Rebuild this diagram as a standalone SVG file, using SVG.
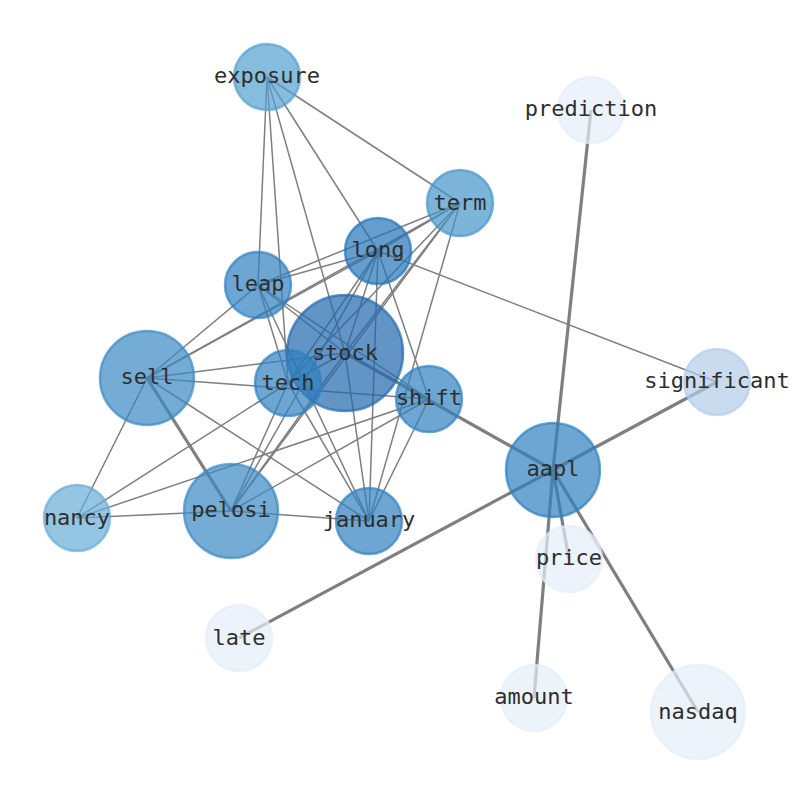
<svg xmlns="http://www.w3.org/2000/svg" width="794" height="790" viewBox="0 0 794 790">
<style>
.e{stroke:#7f7f7f;stroke-width:1.5;fill:none}
.t{stroke:#7f7f7f;stroke-width:3.2;fill:none}
circle{stroke-width:2.5;fill-opacity:0.7;stroke-opacity:0.7}
text{font-family:"DejaVu Sans Mono","Liberation Mono",monospace;font-size:22px;fill:#2e2e2e;text-anchor:middle}
.c0{fill:#1f68ad;stroke:#1f68ad}
.c1{fill:#2474b6;stroke:#2474b6}
.c2{fill:#2f80bf;stroke:#2f80bf}
.c3{fill:#3a89c3;stroke:#3a89c3}
.c4{fill:#4595c9;stroke:#4595c9}
.c4b{fill:#529fcf;stroke:#529fcf}
.c5{fill:#67acd5;stroke:#67acd5}
.c6{fill:#b2cde8;stroke:#b2cde8}
.c7{fill:#e4eef9;stroke:#e4eef9}
</style>
<rect width="794" height="790" fill="#fff"/>
<g id="edges">
<line class="e" x1="267" y1="77" x2="258" y2="285"/>
<line class="e" x1="267" y1="77" x2="288" y2="383"/>
<line class="e" x1="267" y1="77" x2="345" y2="353"/>
<line class="e" x1="267" y1="77" x2="378" y2="251"/>
<line class="e" x1="267" y1="77" x2="460" y2="203"/>
<line class="e" x1="460" y1="203" x2="258" y2="285"/>
<line class="e" x1="460" y1="203" x2="147" y2="378"/>
<line class="e" x1="460" y1="203" x2="378" y2="251"/>
<line class="e" x1="460" y1="203" x2="288" y2="383"/>
<line class="e" x1="460" y1="203" x2="345" y2="353"/>
<line class="e" x1="460" y1="203" x2="231" y2="511"/>
<line class="e" x1="460" y1="203" x2="369" y2="521"/>
<line class="e" x1="378" y1="251" x2="258" y2="285"/>
<line class="e" x1="378" y1="251" x2="147" y2="378"/>
<line class="e" x1="378" y1="251" x2="288" y2="383"/>
<line class="e" x1="378" y1="251" x2="345" y2="353"/>
<line class="e" x1="378" y1="251" x2="231" y2="511"/>
<line class="e" x1="378" y1="251" x2="369" y2="521"/>
<line class="e" x1="378" y1="251" x2="429" y2="399"/>
<line class="e" x1="378" y1="251" x2="717" y2="382"/>
<line class="e" x1="258" y1="285" x2="147" y2="378"/>
<line class="e" x1="258" y1="285" x2="288" y2="383"/>
<line class="e" x1="258" y1="285" x2="345" y2="353"/>
<line class="e" x1="258" y1="285" x2="369" y2="521"/>
<line class="e" x1="258" y1="285" x2="429" y2="399"/>
<line class="e" x1="147" y1="378" x2="345" y2="353"/>
<line class="e" x1="147" y1="378" x2="429" y2="399"/>
<line class="e" x1="147" y1="378" x2="369" y2="521"/>
<line class="e" x1="147" y1="378" x2="77" y2="518"/>
<line class="e" x1="77" y1="518" x2="288" y2="383"/>
<line class="e" x1="77" y1="518" x2="429" y2="399"/>
<line class="e" x1="77" y1="518" x2="231" y2="511"/>
<line class="e" x1="231" y1="511" x2="288" y2="383"/>
<line class="e" x1="231" y1="511" x2="345" y2="353"/>
<line class="e" x1="231" y1="511" x2="369" y2="521"/>
<line class="e" x1="231" y1="511" x2="429" y2="399"/>
<line class="e" x1="288" y1="383" x2="345" y2="353"/>
<line class="e" x1="288" y1="383" x2="369" y2="521"/>
<line class="e" x1="345" y1="353" x2="369" y2="521"/>
<line class="e" x1="429" y1="399" x2="369" y2="521"/>
<line class="e" x1="345" y1="353" x2="429" y2="399"/>
<line class="t" x1="147" y1="378" x2="231" y2="511"/>
<line class="t" x1="345" y1="353" x2="553" y2="470"/>
<line class="t" x1="553" y1="470" x2="717" y2="382"/>
<line class="t" x1="553" y1="470" x2="591" y2="110"/>
<line class="t" x1="553" y1="470" x2="569" y2="559"/>
<line class="t" x1="553" y1="470" x2="239" y2="638"/>
<line class="t" x1="553" y1="470" x2="534" y2="698"/>
<line class="t" x1="553" y1="470" x2="698" y2="712"/>
</g>
<g id="node-stock"><circle class="c0" cx="345" cy="353" r="58"/><text x="345" y="360">stock</text></g>
<g id="node-exposure"><circle class="c4b" cx="267" cy="77" r="33"/><text x="267" y="83">exposure</text></g>
<g id="node-term"><circle class="c4" cx="460" cy="203" r="33"/><text x="460" y="210">term</text></g>
<g id="node-long"><circle class="c1" cx="378" cy="251" r="33"/><text x="378" y="257">long</text></g>
<g id="node-leap"><circle class="c2" cx="258" cy="285" r="33"/><text x="258" y="291">leap</text></g>
<g id="node-sell"><circle class="c3" cx="147" cy="378" r="47"/><text x="147" y="384">sell</text></g>
<g id="node-tech"><circle class="c2" cx="288" cy="383" r="33"/><text x="288" y="390">tech</text></g>
<g id="node-shift"><circle class="c2" cx="429" cy="399" r="33"/><text x="429" y="405">shift</text></g>
<g id="node-nancy"><circle class="c5" cx="77" cy="518" r="33"/><text x="77" y="525">nancy</text></g>
<g id="node-pelosi"><circle class="c3" cx="231" cy="511" r="47"/><text x="231" y="517">pelosi</text></g>
<g id="node-january"><circle class="c2" cx="369" cy="521" r="33"/><text x="369" y="527">january</text></g>
<g id="node-aapl"><circle class="c2" cx="553" cy="470" r="47"/><text x="553" y="476">aapl</text></g>
<g id="node-significant"><circle class="c6" cx="717" cy="382" r="33"/><text x="717" y="388">significant</text></g>
<g id="node-prediction"><circle class="c7" cx="591" cy="110" r="33"/><text x="591" y="116">prediction</text></g>
<g id="node-price"><circle class="c7" cx="569" cy="559" r="33"/><text x="569" y="565">price</text></g>
<g id="node-late"><circle class="c7" cx="239" cy="638" r="33"/><text x="239" y="645">late</text></g>
<g id="node-amount"><circle class="c7" cx="534" cy="698" r="33"/><text x="534" y="704">amount</text></g>
<g id="node-nasdaq"><circle class="c7" cx="698" cy="712" r="47"/><text x="698" y="719">nasdaq</text></g>
</svg>
